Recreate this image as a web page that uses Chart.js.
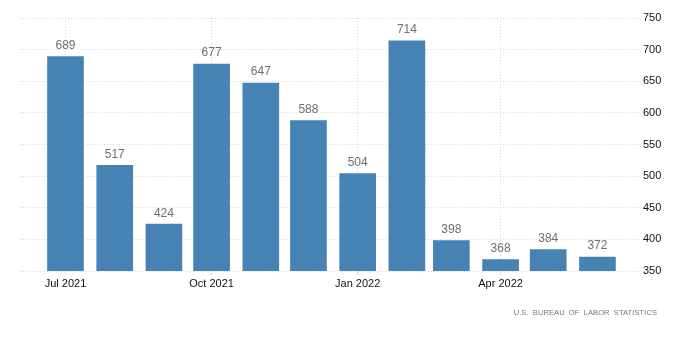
<!DOCTYPE html>
<html>
<head>
<meta charset="utf-8">
<script src="https://cdn.jsdelivr.net/npm/chart.js@4/dist/chart.umd.min.js"></script>
<style>
  html, body { margin: 0; padding: 0; background: #fff; }
  #wrap { position: relative; width: 700px; height: 360px; }
  #source {
    position: absolute; right: 43px; top: 308px;
    font: 7.5px "Liberation Sans", Arial, sans-serif;
    letter-spacing: 0.1px; word-spacing: 2px; color: #777;
  }
</style>
</head>
<body>
<div id="wrap">
  <canvas id="chart" width="700" height="360"></canvas>
  <div id="source">U.S. BUREAU OF LABOR STATISTICS</div>
</div>
<script>
// monthly values, Jul 2021 .. Jun 2022 (first of each month)
const months = ['2021-07-01', '2021-08-01', '2021-09-01', '2021-10-01', '2021-11-01', '2021-12-01',
  '2022-01-01', '2022-02-01', '2022-03-01', '2022-04-01', '2022-05-01', '2022-06-01'];
const values = [689, 517, 424, 677, 647, 588, 504, 714, 398, 368, 384, 372];

// x axis shows a label every quarter
const tickMonths = [0, 3, 6, 9];
const tickLabels = ['Jul 2021', 'Oct 2021', 'Jan 2022', 'Apr 2022'];

const yTicks = [350, 400, 450, 500, 550, 600, 650, 700, 750];

const gridColor = '#d6d6d6';

// x is measured in days from the first month
const DAY = 86400000;
const start = Date.parse(months[0]);
const dayOf = (d) => Math.round((Date.parse(d) - start) / DAY);
const tickPositions = tickMonths.map(i => dayOf(months[i]));

// value labels above each bar
const valueLabels = {
  id: 'valueLabels',
  afterDatasetsDraw(chart) {
    const ctx = chart.ctx;
    const meta = chart.getDatasetMeta(0);
    ctx.save();
    ctx.font = '12px "Liberation Sans", Arial, sans-serif';
    ctx.fillStyle = '#6e6e6e';
    ctx.textAlign = 'center';
    ctx.textBaseline = 'bottom';
    meta.data.forEach((bar, i) => {
      ctx.fillText(String(values[i]), bar.x, bar.y - 5);
    });
    ctx.restore();
  }
};

new Chart(document.getElementById('chart'), {
  type: 'bar',
  data: {
    datasets: [{
      label: 'Value',
      data: values.map((v, i) => ({ x: dayOf(months[i]), y: v })),
      backgroundColor: '#4682b4',
      barThickness: 36
    }]
  },
  options: {
    responsive: false,
    animation: false,
    layout: { padding: { left: 20, top: 18, right: 0, bottom: 59 } },
    plugins: {
      legend: { display: false },
      tooltip: { enabled: false }
    },
    scales: {
      x: {
        type: 'linear',
        offset: false,
        min: -28.65,
        max: 361.8,
        afterBuildTicks: (scale) => {
          scale.ticks = tickPositions.map(v => ({ value: v }));
        },
        afterFit: (scale) => { scale.height = 30; },
        ticks: {
          autoSkip: false,
          maxRotation: 0,
          padding: 2,
          color: '#111',
          font: { family: '"Liberation Sans", Arial, sans-serif', size: 11 },
          callback: (v) => {
            const k = tickPositions.indexOf(v);
            return k >= 0 ? tickLabels[k] : '';
          }
        },
        grid: { offset: false, color: gridColor, tickLength: 4, drawTicks: true },
        border: { display: false, dash: [1, 2] }
      },
      y: {
        position: 'right',
        min: 350,
        max: 750,
        afterBuildTicks: (scale) => {
          scale.ticks = yTicks.map(v => ({ value: v }));
        },
        afterFit: (scale) => { scale.width = 60; },
        ticks: {
          padding: 3,
          color: '#111',
          font: { family: '"Liberation Sans", Arial, sans-serif', size: 11 }
        },
        grid: { color: gridColor, drawTicks: false },
        border: { display: false, dash: [1, 2] }
      }
    }
  },
  plugins: [valueLabels]
});
</script>
</body>
</html>
